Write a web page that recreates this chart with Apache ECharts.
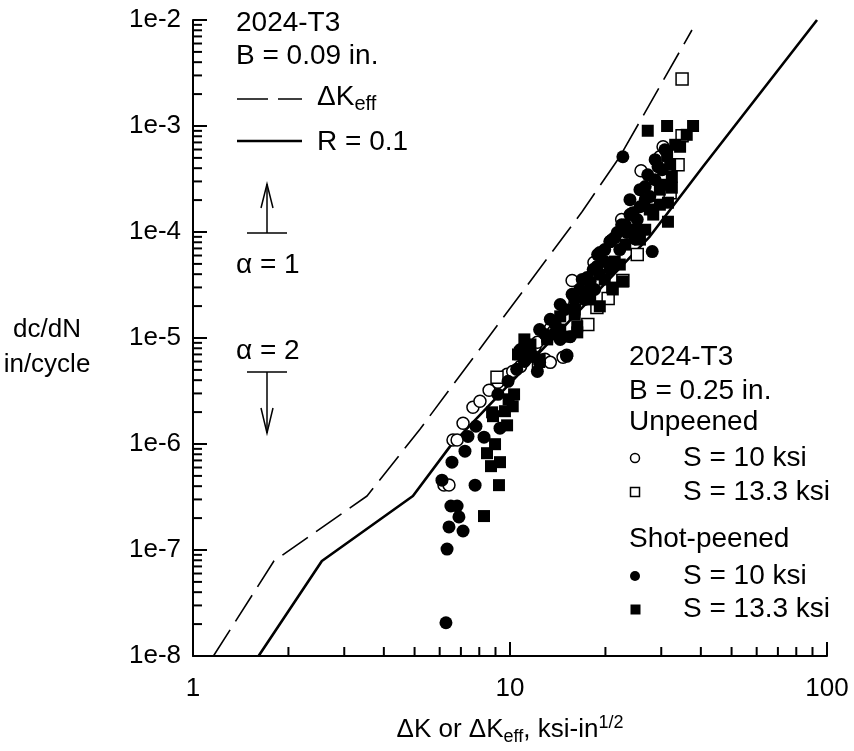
<!DOCTYPE html>
<html><head><meta charset="utf-8">
<script src="https://cdn.jsdelivr.net/npm/echarts@6/dist/echarts.min.js"></script>
<style>html,body{margin:0;padding:0;background:#fff}#c{width:854px;height:751px}</style>
</head><body><div id="c"></div>
<script>
// ---- data (dK in ksi-in^1/2, dc/dN in in/cycle) ----
const dKeffLine = [[1.16,1e-8],[1.80,7.87e-8],[3.54,3.23e-7],[5.20,1.38e-6],[16.9,1.56e-4],[22.2,5.13e-4],[37.5,8.05e-3]];
const r01Line = [[1.61,1e-8],[2.55,7.87e-8],[4.94,3.23e-7],[6.47,9.5e-7],[27.6,9.06e-5],[40.6,4.13e-4],[93,1e-2]];

const unpeened10 = [[6.19,4.1e-7],[6.42,4.1e-7],[6.61,1.09e-6],[6.81,1.09e-6],[7.11,1.57e-6],[7.64,2.22e-6],[8.04,2.53e-6],[8.59,3.21e-6],[9.16,3.82e-6],[9.79,4.54e-6],[10.2,4.84e-6],[10.8,5.4e-6],[12.0,8.34e-6],[12.2,9.1e-6],[12.9,6.29e-6],[13.4,5.89e-6],[13.4,1.23e-5],[13.7,1.15e-5],[14.7,6.57e-6],[15.1,6.86e-6],[15.7,3.49e-5],[16.0,2.07e-5],[18.4,5.15e-5],[20.7,8.13e-5],[22.5,1.31e-4],[25.9,3.79e-4],[29.7,5.13e-4],[30.4,6.37e-4]];
const unpeened133 = [[9.1,4.26e-6],[10.8,7.16e-6],[12.3,6.02e-6],[17.6,1.34e-5],[18.8,1.94e-5],[20.4,2.36e-5],[22.7,3.49e-5],[25.2,6.12e-5],[32.0,2.35e-4],[33.9,4.31e-4],[34.9,8.09e-4],[34.9,2.78e-3]];
const peened10 = [[6.28,2.06e-8],[6.33,1.02e-7],[6.42,1.65e-7],[7.11,1.51e-7],[6.90,2.05e-7],[6.51,2.6e-7],[6.81,2.6e-7],[6.10,4.56e-7],[7.76,4.09e-7],[6.56,6.74e-7],[7.21,8.55e-7],[7.37,1.18e-6],[8.28,1.16e-6],[7.81,1.47e-6],[9.30,1.41e-6],[9.16,2.94e-6],[9.86,3.9e-6],[10.5,5.06e-6],[11.6,7.31e-6],[12.2,4.84e-6],[12.4,5.89e-6],[11.8,6.71e-6],[15.1,6.71e-6],[15.5,1.03e-5],[16.6,2.87e-5],[17.5,3.72e-5],[18.9,6.12e-5],[21.8,9.87e-5],[23.4,9.87e-5],[25.2,1.31e-4],[21.4,8.86e-5],[19.2,6.4e-5],[18.8,4.72e-5],[20.7,8.13e-5],[24.4,1.52e-4],[25.7,1.73e-4],[27.6,2.16e-4],[26.7,2.68e-4],[29.3,4.13e-4],[22.7,5.13e-4],[28.1,6.54e-5],[10.8,7.8e-6],[12.9,1.08e-5],[13.9,1.34e-5],[14.9,1.86e-5],[16.0,2.31e-5],[17.9,3.41e-5],[19.9,5.26e-5],[23.1,1.17e-4],[23.9,1.46e-4],[26.7,2.02e-4],[28.7,3.11e-4],[30.2,3.87e-4],[14.4,9.7e-6],[17.2,2.31e-5],[18.5,2.87e-5],[22.2,6.82e-5],[24.8,8.6e-5],[20.7,4.43e-5],[11.1,6.0e-6],[12.4,1.2e-5],[13.4,1.5e-5],[14.4,2.07e-5],[15.7,2.58e-5],[16.9,3.57e-5],[18.3,4.43e-5],[19.9,6.83e-5],[21.0,8.48e-5],[22.5,1.17e-4],[23.9,2.02e-4],[25.7,2.51e-4],[27.2,3.47e-4],[28.7,4.81e-4],[30.8,5.97e-4]];
const peened133 = [[8.28,2.09e-7],[9.23,4.09e-7],[8.71,6.18e-7],[9.30,6.74e-7],[8.46,8.19e-7],[8.97,9.96e-7],[9.79,1.5e-6],[8.84,1.83e-6],[9.64,2.04e-6],[10.3,2.94e-6],[9.9,2.64e-6],[8.78,1.99e-6],[10.2,2.27e-6],[11.3,7.31e-6],[12.4,6.29e-6],[13.1,1.03e-5],[15.1,1.03e-5],[14.4,1.6e-5],[16.3,1.29e-5],[16.3,1.13e-5],[13.1,9.7e-6],[21.0,2.99e-5],[19.2,1.99e-5],[21.1,2.87e-5],[22.7,3.41e-5],[28.3,1.46e-4],[31.5,1.89e-4],[31.5,1.25e-4],[32.4,3.32e-4],[32.4,2.62e-4],[31.3,5.24e-4],[33.2,6.65e-4],[34.4,6.37e-4],[36.1,8.26e-4],[27.2,9.02e-4],[31.3,1.0e-3],[37.8,1.0e-3],[17.9,2.31e-5],[19.9,3.56e-5],[22.2,4.93e-5],[25.7,8.48e-5],[26.7,1.05e-4],[29.7,1.81e-4],[30.8,2.79e-4],[16.0,1.67e-5],[13.9,1.08e-5],[11.6,8.7e-6],[14.4,1.2e-5],[16.0,1.86e-5],[17.9,2.87e-5],[19.2,3.97e-5],[21.4,5.26e-5],[23.1,7.6e-5],[24.8,1.05e-4],[27.6,1.63e-4],[29.7,2.51e-4],[32.0,4.31e-4],[10.6,7.0e-6],[11.1,9.7e-6]];

const xMinorTicks = [2,3,4,5,6,7,8,9,20,30,40,50,60,70,80,90];
const yMinorTicks = [2e-8,3e-8,4e-8,5e-8,6e-8,7e-8,8e-8,9e-8,2e-7,3e-7,4e-7,5e-7,6e-7,7e-7,8e-7,9e-7,2e-6,3e-6,4e-6,5e-6,6e-6,7e-6,8e-6,9e-6,2e-5,3e-5,4e-5,5e-5,6e-5,7e-5,8e-5,9e-5,2e-4,3e-4,4e-4,5e-4,6e-4,7e-4,8e-4,9e-4,2e-3,3e-3,4e-3,5e-3,6e-3,7e-3,8e-3,9e-3];
const xTickLabels = {1:'1',10:'10',100:'100'};

const FONT = 'Liberation Sans, Arial, sans-serif';
const FS = 28;
const chart = echarts.init(document.getElementById('c'));
const black = '#000';
const openStyle = {color:'#fff', borderColor:black, borderWidth:1.5, opacity:1};
const fillStyle = {color:black, borderColor:black, borderWidth:0, opacity:1};

function txt(x, y, text) {
  return {type:'text', x:x, y:y, style:{text:text, font: FS+'px '+FONT, fill:black, verticalAlign:'middle'}};
}
const subRich = {
  n:{fontSize:FS, fontFamily:FONT, color:black},
  s:{fontSize:20, fontFamily:FONT, color:black, padding:[15,0,0,0]}
};

const option = {
  animation:false,
  backgroundColor:'#fff',
  grid:{left:193, right:27, top:20, bottom:94, containLabel:false},
  xAxis:{type:'log', logBase:10, min:1, max:100, interval:1,
    axisLine:{show:true, onZero:false, lineStyle:{color:black, width:2}},
    axisTick:{inside:true, length:14, lineStyle:{color:black, width:2}},
    splitLine:{show:false},
    axisLabel:{fontSize:26, fontFamily:FONT, color:black, margin:20, formatter:v=>xTickLabels[Math.round(v)]||String(v)},
    name:'{n|ΔK or ΔK}{s|eff}{n|, ksi-in}{u|1/2}', nameLocation:'middle', nameGap:58,
    nameTextStyle:{rich:{
      n:{fontSize:26, fontFamily:FONT, color:black},
      s:{fontSize:18, fontFamily:FONT, color:black, padding:[14,0,0,0]},
      u:{fontSize:18, fontFamily:FONT, color:black, padding:[0,0,14,0]}
    }}
  },
  yAxis:{type:'log', logBase:10, min:1e-8, max:1e-2, interval:1,
    axisLine:{show:true, onZero:false, lineStyle:{color:black, width:2}},
    axisTick:{inside:true, length:14, lineStyle:{color:black, width:2}},
    splitLine:{show:false},
    axisLabel:{fontSize:26, fontFamily:FONT, color:black, margin:12, formatter:v=>'1e'+Math.round(Math.log10(v))}
  },
  series:[
    {type:'custom', name:'xminor', clip:false, silent:true, z:1,
      data:xMinorTicks.map(v=>[v,1e-8]),
      renderItem:(p,api)=>{const c=api.coord([api.value(0),api.value(1)]);return {type:'line',shape:{x1:c[0],y1:c[1],x2:c[0],y2:c[1]-9},style:{stroke:black,lineWidth:2}};}},
    {type:'custom', name:'yminor', clip:false, silent:true, z:1,
      data:yMinorTicks.map(v=>[1,v]),
      renderItem:(p,api)=>{const c=api.coord([api.value(0),api.value(1)]);return {type:'line',shape:{x1:c[0],y1:c[1],x2:c[0]+9,y2:c[1]},style:{stroke:black,lineWidth:2}};}},
    {type:'line', name:'dKeff', data:dKeffLine, showSymbol:false, symbol:'none', z:2,
      lineStyle:{color:black, width:1.6, type:[31,10]}},
    {type:'line', name:'R=0.1', data:r01Line, showSymbol:false, symbol:'none', z:2,
      lineStyle:{color:black, width:2.6}},
    {type:'scatter', name:'Unpeened S=10', data:unpeened10, symbol:'circle', symbolSize:12, itemStyle:openStyle, z:3},
    {type:'scatter', name:'Unpeened S=13.3', data:unpeened133, symbol:'rect', symbolSize:12, itemStyle:openStyle, z:3},
    {type:'scatter', name:'Shot-peened S=10', data:peened10, symbol:'circle', symbolSize:13, itemStyle:fillStyle, z:4},
    {type:'scatter', name:'Shot-peened S=13.3', data:peened133, symbol:'rect', symbolSize:12, itemStyle:fillStyle, z:4}
  ],
  graphic:[
    {type:'text', x:47, y:330, style:{text:'dc/dN', font:'26px '+FONT, fill:black, align:'center', verticalAlign:'middle'}},
    {type:'text', x:47, y:365, style:{text:'in/cycle', font:'26px '+FONT, fill:black, align:'center', verticalAlign:'middle'}},
    txt(236, 23, '2024-T3'),
    txt(236, 56, 'B = 0.09 in.'),
    {type:'line', shape:{x1:237,y1:99,x2:302,y2:99}, style:{stroke:black, lineWidth:1.6, lineDash:[31,10]}},
    {type:'text', x:317, y:97, style:{text:'{n|ΔK}{s|eff}', rich:subRich, fill:black, verticalAlign:'middle'}},
    {type:'line', shape:{x1:237,y1:141,x2:302,y2:141}, style:{stroke:black, lineWidth:2.6}},
    txt(317, 142, 'R = 0.1'),
    {type:'line', shape:{x1:247,y1:233,x2:287,y2:233}, style:{stroke:black, lineWidth:1.5}},
    {type:'line', shape:{x1:267,y1:233,x2:267,y2:184}, style:{stroke:black, lineWidth:1.5}},
    {type:'polyline', shape:{points:[[261,208],[267,184],[273,208]]}, style:{stroke:black, lineWidth:1.5, fill:null}},
    txt(236, 265, 'α = 1'),
    txt(236, 351, 'α = 2'),
    {type:'line', shape:{x1:247,y1:372,x2:287,y2:372}, style:{stroke:black, lineWidth:1.5}},
    {type:'line', shape:{x1:267,y1:372,x2:267,y2:433}, style:{stroke:black, lineWidth:1.5}},
    {type:'polyline', shape:{points:[[261,408],[267,433],[273,408]]}, style:{stroke:black, lineWidth:1.5, fill:null}},
    txt(629, 357, '2024-T3'),
    txt(629, 391, 'B = 0.25 in.'),
    txt(629, 422, 'Unpeened'),
    {type:'circle', shape:{cx:635, cy:458, r:4.5}, style:{fill:'#fff', stroke:black, lineWidth:1.5}},
    txt(683, 458, 'S = 10 ksi'),
    {type:'rect', shape:{x:630.5, y:487.5, width:9, height:9}, style:{fill:'#fff', stroke:black, lineWidth:1.5}},
    txt(683, 492, 'S = 13.3 ksi'),
    txt(629, 539, 'Shot-peened'),
    {type:'circle', shape:{cx:635, cy:576, r:5}, style:{fill:black}},
    txt(683, 576, 'S = 10 ksi'),
    {type:'rect', shape:{x:630.5, y:604.5, width:10, height:10}, style:{fill:black}},
    txt(683, 609, 'S = 13.3 ksi')
  ]
};
chart.setOption(option);
</script></body></html>
